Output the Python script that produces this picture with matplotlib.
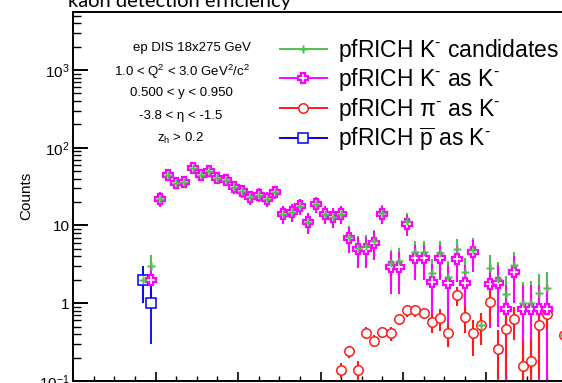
import numpy as np
import matplotlib
matplotlib.use("Agg")
import matplotlib.pyplot as plt
from matplotlib.lines import Line2D
from matplotlib.ticker import MultipleLocator, FixedLocator, LogLocator, NullFormatter

plt.rcParams['font.family'] = 'Liberation Sans'
plt.rcParams['mathtext.fontset'] = 'custom'
plt.rcParams['mathtext.rm'] = 'Liberation Sans'
plt.rcParams['mathtext.it'] = 'Liberation Sans:italic'
plt.rcParams['mathtext.bf'] = 'Liberation Sans:bold'

nan = np.nan
bin_width = 0.1

# pfRICH K- candidates (first bin index 8)
cand_first = 8
cand = [2, 3, 22, 44, 35, 36, 55, 44, 50, 41, 38, 31, 28, 23, 25, 22, 27, 14, 15, 18,
        11, 19, 14, 13, 14.1, 7.2, 5.1, 5.4, 6.3, 14.4, 3.3, 3.5, 11.4, 4.6, 4.55, 2.45,
        4.45, 2.2, 4.95, 2.5, 4.9, 0.52, 2.8, 2.05, 1.31, 3.1, 1.0, 1.02, 1.37, 1.56, nan, 0.39]
cand_err = [1.0, 1.2, 4.7, 6.6, 5.9, 6.0, 7.4, 6.6, 7.1, 6.4, 6.2, 5.6, 5.3, 4.8, 5.0, 4.7, 5.2, 3.7, 3.9, 4.2,
            3.3, 4.4, 3.7, 3.6, 3.7, 2.6, 2.2, 2.2, 2.4, 3.7, 1.6, 1.6, 3.2, 1.8, 1.8, 1.3,
            1.8, 1.3, 1.8, 1.3, 2.0, 0.23, 1.4, 1.3, 0.95, 1.5, 0.9, 0.9, 1.0, 0.95, nan, 0.2]

# pfRICH K- identified as K- (first bin index 9)
kk_first = 9
kk = [2, 22, 44, 35, 36, 55, 44, 50, 41, 38, 31, 28, 23, 25, 22, 27, 14, 15, 18,
      11, 19, 14, 13, 14, 7, 5, 5, 6, 14, 2.9, 2.9, 10.6, 3.8, 3.8, 1.88,
      3.8, 1.8, 3.7, 1.83, 4.5, nan, 1.78, 1.8, 0.84, 2.5, 0.84, 0.84, 0.84, 0.84]
kk_err = [1.0, 4.7, 6.6, 5.9, 6.0, 7.4, 6.6, 7.1, 6.4, 6.2, 5.6, 5.3, 4.8, 5.0, 4.7, 5.2, 3.7, 3.9, 4.2,
          3.3, 4.4, 3.7, 3.6, 3.7, 2.6, 2.2, 2.2, 2.4, 3.7, 1.6, 1.6, 3.2, 1.8, 1.8, 1.3,
          1.8, 1.3, 1.8, 1.3, 2.0, nan, 1.3, 1.3, 0.9, 1.5, 0.9, 0.9, 0.9, 0.9]

# pfRICH pi- identified as K- (first bin index 32)
pi_first = 32
pi = [0.14, 0.24, 0.14, 0.42, 0.33, 0.43, 0.41, 0.62, 0.81, 0.81, 0.75, 0.57, 0.64, 0.41,
      1.27, 0.67, 0.41, 0.52, 1.04, 0.26, 0.47, 0.62, 0.155, 0.18, 0.53, 0.72, nan, 0.39]
pi_err = [0.03, 0.04, 0.04, 0.07, 0.06, 0.07, 0.08, 0.09, 0.15, 0.15, 0.13, 0.16, 0.2, 0.14,
          0.35, 0.25, 0.2, 0.23, 0.5, 0.19, 0.36, 0.28, 0.17, 0.17, 0.42, 0.25, nan, 0.2]

# pfRICH pbar identified as K- (first bin index 8)
pbar_first = 8
pbar = [2, 1]
pbar_err = [1.0, 0.7]

y_ticks = [0.1, 1, 10, 100, 1000]
y_tick_labels = ['$10^{-1}$', '1', '10', '$10^{2}$', '$10^{3}$']

cut_lines = ['ep DIS 18x275 GeV',
             r'1.0 < Q$^{2}$ < 3.0 GeV$^{2}$/c$^{2}$',
             '0.500 < y < 0.950',
             '-3.8 < η < -1.5',
             r'z$_{\mathrm{h}}$ > 0.2']

green = '#52bf52'
magenta = '#ff00ff'
red = '#ff1a1a'
blue = '#0000f0'


def centers(first, vals):
    return (np.arange(len(vals)) + first + 0.5) * bin_width


W, H = 562, 383
fig = plt.figure(figsize=(W / 100, H / 100), dpi=100)
ax = fig.add_axes([73 / W, 2 / H, 560 / W, 369 / H])
ax.set_yscale('log')
ax.set_xlim(0, 560 / 82.5)
ax.set_ylim(0.1, 5570)

# error bars first, markers on top
ax.errorbar(centers(cand_first, cand), cand, yerr=cand_err, fmt='none',
            ecolor=green, elinewidth=1.5, capsize=0, zorder=2)
ax.errorbar(centers(kk_first, kk), kk, yerr=kk_err, fmt='none',
            ecolor=magenta, elinewidth=1.5, capsize=0, zorder=2.1)
ax.errorbar(centers(pi_first, pi), pi, yerr=pi_err, fmt='none',
            ecolor=red, elinewidth=1.5, capsize=0, zorder=2.2)
ax.errorbar(centers(pbar_first, pbar), pbar, yerr=pbar_err, fmt='none',
            ecolor=blue, elinewidth=1.3, capsize=0, zorder=2.3)

ax.plot(centers(pi_first, pi), pi, ls='none', marker='o', ms=6.8, mfc='white',
        mec=red, mew=1.1, zorder=3)
ax.plot(centers(pbar_first, pbar), pbar, ls='none', marker='s', ms=7.0, mfc='white',
        mec=blue, mew=1.1, zorder=3.5)
ax.plot(centers(kk_first, kk), kk, ls='none', marker='P', ms=6.8, mfc='white',
        mec=magenta, mew=1.6, zorder=4)
ax.plot(centers(cand_first, cand), cand, ls='none', marker='P', ms=5.6, mfc=green,
        mec='none', zorder=5)

# axes styling
ax.spines['right'].set_visible(False)
for side in ['left', 'top', 'bottom']:
    ax.spines[side].set_linewidth(1.4)

ax.yaxis.set_major_locator(FixedLocator(y_ticks))
ax.set_yticklabels(y_tick_labels)
ax.yaxis.set_minor_locator(LogLocator(base=10, subs=np.arange(2, 10)))
ax.yaxis.set_minor_formatter(NullFormatter())
ax.xaxis.set_major_locator(MultipleLocator(1))
ax.xaxis.set_minor_locator(MultipleLocator(0.25))
ax.tick_params(axis='y', which='major', direction='in', length=10.5, width=1.4,
               labelsize=11, pad=2.5)
ax.tick_params(axis='y', which='minor', direction='in', length=6, width=1.0)
ax.tick_params(axis='x', which='major', direction='in', length=6.5, width=1.2,
               labelbottom=False)
ax.tick_params(axis='x', which='minor', direction='in', length=3.6, width=1.0)
ax.set_ylabel('Counts', fontsize=11)
ax.yaxis.set_label_coords((26 - 73) / 560, (381 - 196) / 369)
ax.yaxis.label.set_va('center')

# selection cuts
cut_pos = [(192, 50.7), (182, 75.7), (181, 95.7), (181, 119.3), (181, 141.7)]
for txt, (px, py) in zip(cut_lines, cut_pos):
    fig.text(px / W, 1 - py / H, txt, ha='center', va='baseline', fontsize=9.5)

# legend
handles = [
    Line2D([], [], color=green, lw=1.4, marker='P', ms=6, mfc=green, mec='none'),
    Line2D([], [], color=magenta, lw=1.4, marker='P', ms=6.8, mfc='white', mec=magenta, mew=1.6),
    Line2D([], [], color=red, lw=1.4, marker='o', ms=6.8, mfc='white', mec=red, mew=1.1),
    Line2D([], [], color=blue, lw=1.4, marker='s', ms=7.0, mfc='white', mec=blue, mew=1.1),
]
labels = [r'pfRICH K$^{\text{-}}$ candidates',
          r'pfRICH K$^{\text{-}}$ as K$^{\text{-}}$',
          r'pfRICH π$^{\text{-}}$ as K$^{\text{-}}$',
          r'pfRICH $\overline{\mathrm{p}}$ as K$^{\text{-}}$']
fig.legend(handles, labels, loc='upper left', bbox_to_anchor=(280 / W, 1 - 37 / H),
           frameon=False, fontsize=16.5, handlelength=2.05, handletextpad=0.5,
           labelspacing=0.1, borderpad=0, borderaxespad=0)

fig.text(68 / W, 1 - 7 / H, 'kaon detection efficiency', ha='left', va='baseline',
         fontsize=14.5, family='Lato')

fig.savefig('out.png', dpi=100)
